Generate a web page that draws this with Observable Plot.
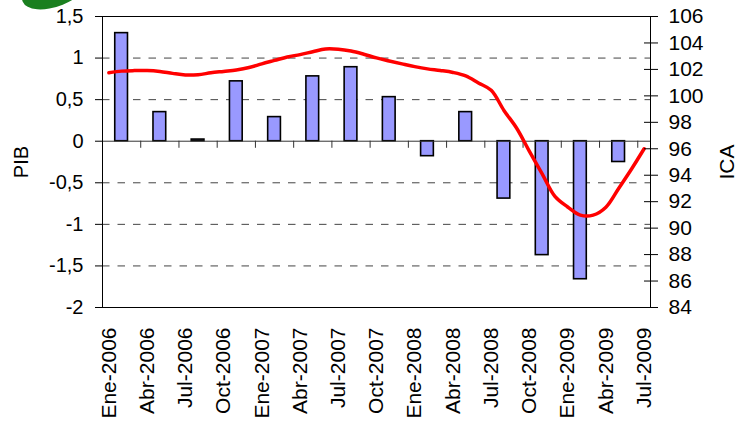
<!DOCTYPE html>
<html>
<head>
<meta charset="utf-8">
<script src="https://cdn.jsdelivr.net/npm/d3@7"></script>
<script src="https://cdn.jsdelivr.net/npm/@observablehq/plot@0.6"></script>
<style>
  html, body { margin: 0; padding: 0; background: #fff; }
  #wrap { position: relative; width: 736px; height: 425px; overflow: hidden; }
  #wrap svg { position: absolute; left: 0; top: 0; }
  #logo { position: absolute; left: 20px; top: -30px; width: 72px; height: 36px;
          border-radius: 50%; background: #1a7f1f; transform: rotate(-22deg); }
</style>
</head>
<body>
<div id="wrap"><div id="logo"></div></div>
<script>
// Tick labels (quarterly) on the monthly category axis
const etiquetas = ["Ene-2006","Abr-2006","Jul-2006","Oct-2006","Ene-2007","Abr-2007","Jul-2007","Oct-2007",
                   "Ene-2008","Abr-2008","Jul-2008","Oct-2008","Ene-2009","Abr-2009","Jul-2009"];
// PIB quarterly (left axis), Ene-2006 .. Abr-2009
const pib = [1.30, 0.35, 0.02, 0.72, 0.29, 0.78, 0.89, 0.53, -0.18, 0.35, -0.69, -1.37, -1.66, -0.25];
// ICA monthly (right axis), Ene-2006 .. Jul-2009
const ica = [101.75, 101.87, 101.91, 101.92, 101.85, 101.70, 101.58, 101.60, 101.74, 101.85,
             101.96, 102.14, 102.42, 102.68, 102.94, 103.12, 103.34, 103.55, 103.53, 103.39,
             103.15, 102.87, 102.64, 102.42, 102.21, 102.04, 101.92, 101.77, 101.51, 100.98,
             100.42, 98.90, 97.55, 95.80, 94.10, 92.40, 91.60, 90.98, 90.98, 91.58,
             93.00, 94.45, 96.00];
const pibTicks = [-2, -1.5, -1, -0.5, 0, 0.5, 1, 1.5];
const pibGrid = [1, 0.5, -0.5, -1, -1.5];
const icaTicks = d3.range(84, 107, 2);
const nMeses = ica.length;

const W = 736, H = 425;
const M = {marginTop: 16, marginRight: 86, marginBottom: 118, marginLeft: 102};
const font = {fontFamily: "'Liberation Sans', Arial, sans-serif", fontSize: "20px", color: "#000"};
const fmt = d => String(d).replace(".", ",");

const barras = Plot.plot({
  width: W, height: H, ...M,
  style: {...font, background: "transparent"},
  x: {domain: [0, nMeses]},
  y: {domain: [-2, 1.5]},
  marks: [
    Plot.ruleY(pibGrid, {stroke: "#444", strokeDasharray: "7.5,8"}),
    Plot.rectY(pib, {x1: (d, i) => 3 * i + 1, x2: (d, i) => 3 * i + 2, y1: 0, y2: d => d,
                     fill: "#9999ff", stroke: "#000", strokeWidth: 1.6}),
    Plot.ruleY([0], {stroke: "#333"}),
    Plot.ruleX(d3.range(3, nMeses, 3), {y1: 0, y2: -0.085, stroke: "#333"}),
    Plot.frame({stroke: "#000"}),
    Plot.axisY(pibTicks, {anchor: "left", tickSize: 7, tickPadding: 12, tickFormat: fmt,
                          fontSize: 20, label: "PIB", labelAnchor: "center", labelArrow: "none",
                          labelOffset: 89}),
    Plot.axisX(etiquetas.map((e, i) => 3 * i + 0.5), {anchor: "bottom", tickSize: 0, tickPadding: 20,
                          tickRotate: -90, fontSize: 21, label: null,
                          tickFormat: d => etiquetas[Math.round((d - 0.5) / 3)]})
  ]
});

const linea = Plot.plot({
  width: W, height: H, ...M,
  style: {...font, background: "transparent"},
  x: {domain: [0, nMeses], axis: null},
  y: {domain: [84, 106]},
  marks: [
    Plot.line(ica, {x: (d, i) => i + 0.5, y: d => d, stroke: "#ff0000", strokeWidth: 3.5, curve: "catmull-rom"}),
    Plot.axisY(icaTicks, {anchor: "right", tickSize: 14, dx: -7, tickFormat: () => "", label: null}),
    Plot.axisY(icaTicks, {anchor: "right", tickSize: 0, tickPadding: 18, fontSize: 21,
                          label: "ICA", labelAnchor: "center", labelArrow: "none", labelOffset: 83})
  ]
});

const wrap = document.getElementById("wrap");
wrap.appendChild(barras);
wrap.appendChild(linea);
</script>
</body>
</html>
